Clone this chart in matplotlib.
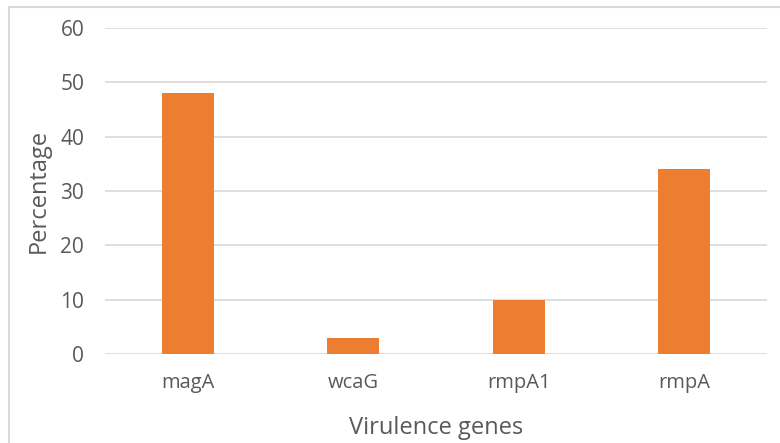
import matplotlib.pyplot as plt
from matplotlib.patches import Rectangle

genes = ['magA', 'wcaG', 'rmpA1', 'rmpA']
percentage = [48, 3, 10, 34]

plt.rcParams['font.family'] = ['Open Sans', 'DejaVu Sans']

fig = plt.figure(figsize=(7.8, 4.43), dpi=100)
ax = fig.add_axes([0.1346, 0.2009, 0.8484, 0.7359])

# Light frame around the chart area
fig.patches.append(Rectangle((9 / 780, -0.1), 1.2, 1 - 7 / 443 + 0.1,
                             transform=fig.transFigure, fill=False,
                             edgecolor='#d9d9d9', linewidth=1.5))

x = range(len(genes))
ax.bar(x, percentage, width=0.315, color='#ED7D31', zorder=3)

ax.set_xlim(-0.5, len(genes) - 0.5)
ax.set_ylim(0, 60)
ax.set_yticks(range(0, 61, 10))
ax.set_xticks(list(x))
ax.set_xticklabels(genes)
ax.yaxis.grid(True, color='#d9d9d9', linewidth=1.2, zorder=0)
for s in ax.spines.values():
    s.set_visible(False)
ax.tick_params(axis='both', length=0, colors='#595959')
ax.tick_params(axis='y', pad=15, labelsize=15)
ax.tick_params(axis='x', pad=14, labelsize=14.5)

ax.set_ylabel('Percentage', fontsize=17, color='#595959', labelpad=7)
ax.set_xlabel('Virulence genes', fontsize=17, color='#595959', labelpad=16)

fig.savefig('out.png', dpi=100)
